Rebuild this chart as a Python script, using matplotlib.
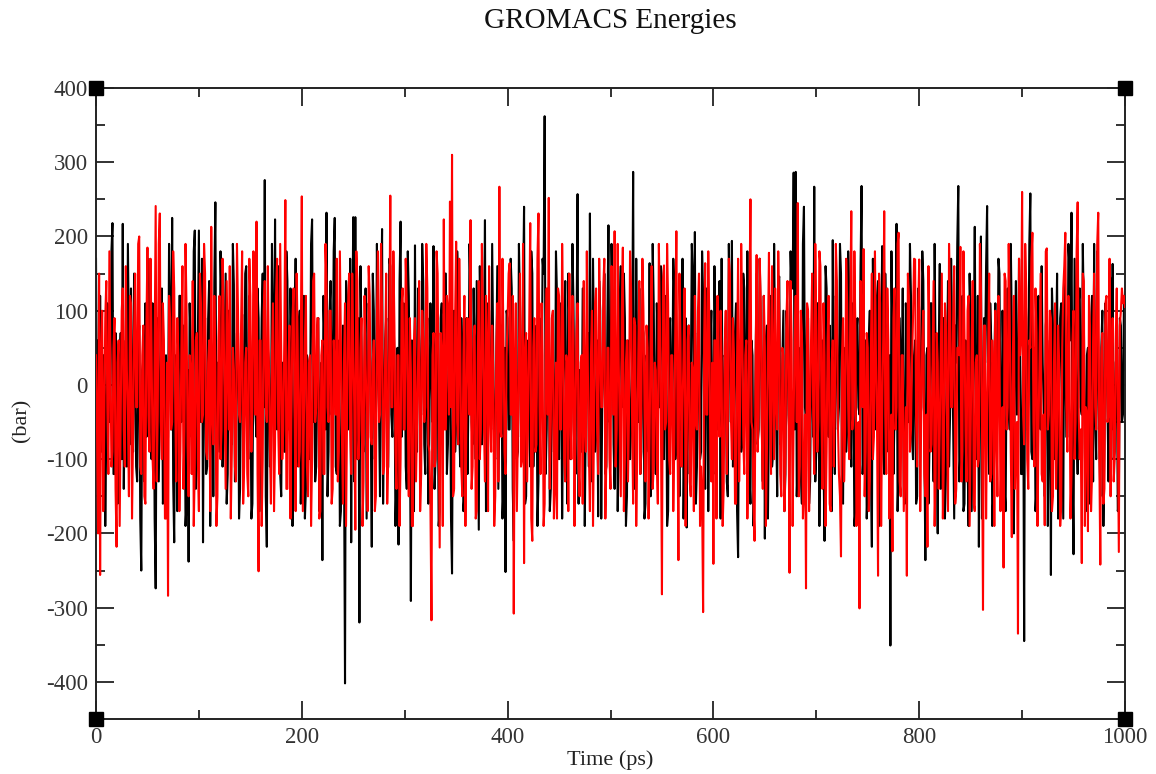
#!/usr/bin/env python3
import matplotlib

matplotlib.use("Agg")
import matplotlib.pyplot as plt
import numpy as np
from matplotlib.ticker import MultipleLocator


OUT = "out.png"
DPI = 100
TIME_STEP_PS = 1.0
TITLE = "GROMACS Energies"
X_LABEL = "Time (ps)"
Y_LABEL = "(bar)"

# pressure components, one value per ps (each row is 50 ps)
pres_black = [
    170, -60, 60, -170, 120, -90, -80, 40, 40, -190, -60, 110, 95, -50, -30, 180, 218, -120, -120, 70, 10, -160, -150, 30, 70, -100, 217, -140, -20, 60, -110, 190, 50, -80, 130, -30, -90, 150, 25, -110, -130, 50, 80, -180, -250, 20, 35, -130, 110, -70,
    -60, 170, 140, -40, -100, 110, 60, -180, -274, 50, 90, -130, -20, 90, 130, -160, -140, 30, 40, -100, -70, 190, 100, -60, 225, -130, -212, 40, 15, -170, -90, 120, 120, -50, -40, 80, 75, -190, -160, 20, -238, 110, 60, -70, -30, 180, 208, -140, -80, 60,
    208, -40, -50, 170, -212, 60, 90, -120, -110, 90, 140, -190, -10, 50, -150, 140, 246, -80, 30, -30, -90, 180, 110, -110, -60, 40, 150, -160, -120, 100, 20, -60, -80, 190, 135, -130, -30, 70, 70, -180, -140, 30, 95, -90, -20, 150, 160, -50, -100, 120,
    40, -180, -160, 60, 120, -40, -70, 130, 90, -170, -40, 90, 150, -30, 276, -150, -218, 50, 30, -110, -100, 190, 80, -70, 223, -40, -60, 160, 110, -120, -150, 30, 20, -90, -90, 180, 140, -60, -30, 130, 60, -190, -120, 40, 170, -110, -50, 80, 100, -160,
    -80, 70, 120, -180, -140, 40, 30, -100, -60, 190, 223, -50, 10, -130, -110, 80, 90, -170, -30, 30, -236, 120, 60, -60, 232, -150, -90, 100, 140, -40, -20, 180, 225, -110, -120, 60, 50, -190, -170, 20, 80, -90, -402, 140, 110, -60, -40, 170, -212, 50,
    226, -130, 226, -40, -100, 90, -320, 160, 60, -70, -90, 30, 130, -180, -40, 110, 70, -50, -218, 150, 100, -100, -60, 190, 20, -30, -150, 80, 210, -160, -30, 60, 90, -120, -110, 170, 160, -40, -70, 100, 40, -190, -130, 50, -215, 140, 220, -70, -20, 110,
    80, -110, -140, 180, 120, -40, -291, 60, 30, -170, 188, -90, -90, 130, 60, -30, -40, 190, 140, -80, -120, 40, 90, -160, -60, 110, 20, -50, 187, -140, -100, 70, 50, -190, -170, 90, 110, -40, -30, 150, 150, -120, -80, 30, 60, -180, -254, 60, 100, -90,
    -50, 180, 130, -60, -110, 90, 40, -170, -150, 40, 90, -120, -20, 190, 120, -50, -80, 130, 30, -100, 140, -30, -195, 160, 70, -80, -40, 60, 222, -170, -130, 110, 100, -40, -60, 190, 50, -90, -100, 30, 160, -140, -30, 70, 80, -180, -140, 50, -252, 100,
    90, -60, -60, 170, 130, -140, -210, 40, 40, -100, -90, 190, 110, -70, -20, 120, 240, -160, -150, 30, 60, -50, -110, 180, 150, -110, -40, 60, 80, -190, -130, 90, 30, -40, 170, 150, 362, -120, -60, 70, 100, -170, -140, 30, 40, -90, -80, 180, 120, -50,
    -100, 110, 60, -180, -30, 60, 140, -40, -160, 150, 80, -100, -50, 190, 110, -30, -120, 80, 257, -160, 20, -60, -90, 130, 130, -190, -40, 50, 70, -110, 231, -40, -130, 170, 40, -90, -60, 60, -177, 140, 100, -180, -20, 30, 150, -120, -110, 90, 215, -50,
    -40, 190, 120, -80, -140, 40, 60, -170, -80, 110, 160, -30, -20, 150, 90, -190, -150, 60, 40, -100, -60, 30, 287, -140, -100, 170, 30, -50, 130, -120, -90, 80, 70, -180, -160, 40, 20, -90, 164, -150, -50, 190, 110, -60, -120, 110, 50, -30, -30, 160,
    140, -50, -100, 120, 60, -190, -170, 60, 90, -30, -40, 170, 130, -100, -80, 40, 20, -150, 110, -60, 170, -180, -60, 90, -192, 30, 80, -120, -20, 190, 150, -40, 206, -160, -110, 70, 40, -100, -90, 180, 120, -30, -140, 130, 60, -170, -30, 50, 100, -110,
    -120, 160, 50, -30, -60, 100, 140, -180, 170, -60, -90, 40, 30, -130, -150, 190, 90, -50, 194, -110, -40, 70, 110, -170, -232, 30, 60, -90, -80, 150, 130, -40, -20, 180, 70, -120, -160, 60, 40, -190, -100, 30, 150, -80, -60, 170, 90, -50, -130, 120,
    -207, 60, 80, -180, -30, 30, 120, -110, -90, 190, 40, -50, -150, 140, 146, -80, -40, 30, 100, -170, -120, 100, 60, -40, -70, 180, 130, 130, 286, -60, 287, -150, -100, 50, 20, -120, -160, 190, 240, -30, -50, 90, 90, -160, -130, 40, 40, -70, 267, -130,
    -90, 110, 110, -190, -40, 40, 60, -100, -210, 160, 130, -50, -70, 80, 30, -170, 195, -30, -120, 120, 80, -60, -30, 190, 150, -140, -160, 40, 50, -90, -60, 180, 120, -50, -110, 110, 20, -190, -170, 70, 90, -30, -40, 160, 268, -120, -90, 50, 60, -180,
    -130, 60, 100, -110, -218, 170, 40, -40, -60, 120, 140, -190, -30, 30, 187, -90, -120, 150, 70, -60, -90, 40, -351, 180, 60, -120, -40, 50, 217, -170, -110, 90, 30, -30, 130, -150, -160, 110, 80, -50, -50, 190, 120, -70, -100, 40, 60, -160, -150, 130,
    100, -50, -30, 180, 140, -90, -236, 40, 50, -160, -80, 110, 110, -30, -130, 190, 20, -70, -200, 50, 163, -140, -60, 90, 90, -180, -120, 30, 140, -110, -40, 170, 70, -50, -180, 80, 30, 190, 268, -130, -90, 40, 120, -170, -160, 60, 40, -100, -190, 150,
    90, -170, -50, 60, 213, -30, -100, 120, -218, 40, 200, -180, -80, 90, 30, 160, 241, -50, -120, 110, 60, -190, -150, 30, 110, -80, -40, 170, 150, -60, -110, 100, 20, -140, -170, 50, 130, -30, -60, 190, 80, -110, -200, 60, 140, -40, -30, 170, 60, -120,
    -120, 40, -345, 150, 90, -60, -20, 190, 258, -90, -100, 30, 50, -170, -140, 110, 120, -50, -60, 160, 30, -30, -150, 80, 100, -190, -40, 60, -256, 130, 80, -100, -90, 40, 150, -180, -30, 90, 110, -30, -180, 150, 40, -70, -70, 190, 160, 60, 232, -110,
    -228, 170, 60, -50, -120, 110, 130, -30, -40, 190, 90, -90, -170, 40, 50, -160, -60, 80, 120, -130, 190, -40, -100, 180, 30, -70, -150, 50, 100, -190, -80, 110, 60, -30, -130, 150, 140, -60, 163, -100, -90, 30, 40, -170, -160, 90, 80, -50, -40, 120,
    20,
]

pres_red = [
    40, -60, -200, 150, -256, 40, 100, -170, -60, 90, 140, -30, -120, 180, 30, -110, -90, 50, 90, -140, -218, 30, 60, -190, -40, 100, 130, -60, -110, 160, 20, -40, -150, 120, 110, -180, -70, 70, 150, -30, -30, 190, 200, -110, -120, 40, 80, -150, -160, 80,
    185, -40, -90, 170, 50, -100, -140, 60, 241, -130, -40, 190, 231, -50, -100, 110, 60, -180, -180, 30, -284, 120, 90, -60, -50, 180, 130, -30, -130, 90, 40, -170, -90, 50, 160, -140, -60, 190, 100, -80, -150, 40, 20, -120, 140, -190, -110, 60, 70, -100,
    -170, 150, 110, -50, -40, 190, 150, -90, -100, 30, 60, -170, 213, -40, -80, 120, 30, -190, -150, 60, 120, -100, -60, 170, 90, -30, -140, 140, 40, -60, 160, -180, -90, 50, 20, -110, -130, 190, 100, -40, -50, 80, 180, -160, -110, 30, 50, -120, -150, 170,
    120, -90, -30, 180, 90, -40, 220, -120, -251, 60, 60, -190, -100, 100, 140, -30, -50, 160, 30, -80, -160, 40, 110, -170, -80, 120, 170, -50, -120, 190, 40, -100, -60, 60, 249, -140, -140, 30, 80, -180, -20, 90, 130, -40, -170, 150, 60, -110, -90, 50,
    254, -170, -60, 60, 120, -110, -150, 30, 40, -190, -100, 140, 150, -50, -30, 90, 90, -180, -170, 40, 60, -120, -120, 190, 140, -30, -50, 100, 100, -160, -140, 60, 20, -40, 170, -130, -90, 180, 60, -70, -160, 30, 110, -190, -40, 110, 150, -60, -120, 150,
    50, -30, -195, 180, 140, -100, -60, 50, 90, -190, -130, 120, 30, -40, -170, 160, 120, -70, -80, 30, 60, -170, -150, 90, 180, -50, -40, 190, 100, -120, -110, 40, 150, -160, -90, 60, 255, -30, -30, 180, 80, -90, -140, 40, 40, -190, -100, 110, 130, -60,
    -60, 170, 110, -40, -150, 90, 20, -190, -190, 60, 90, -130, -50, 30, 140, -170, -120, 100, 60, -50, -30, 190, 130, -80, -90, -160, -317, 40, 70, -110, -100, 180, 150, -30, -219, 70, 40, -190, 223, -60, -60, 120, 100, -40, 247, -30, 310, -150, -140, 90,
    193, -50, -80, 170, 60, -110, -150, 30, 120, -190, -40, 90, 30, -40, 222, -140, -110, 60, 80, -180, -170, 30, 140, -100, -60, 190, 100, -50, -130, 120, 50, -170, 160, -30, -90, 80, 20, -190, -150, 50, 110, -130, 267, -60, -70, 170, 60, -90, -120, 40,
    90, 150, 164, -40, -40, 120, -308, 30, 110, -170, -60, 60, 150, -110, -100, 190, -240, 40, 70, -130, -30, 80, 218, -180, -210, 50, 90, -90, -80, 170, 231, -30, -120, 110, 40, -190, -160, 60, 130, -40, 252, -140, -50, 90, 100, -180, -140, 30, -180, 130,
    120, -60, -60, 190, 80, -100, -130, 40, 30, -170, 150, -30, -100, 120, 60, -190, -40, 70, 110, -110, -150, 30, 40, -160, 140, -50, -90, 180, 20, -90, -170, 40, 100, -190, -50, 110, 130, -60, -120, 170, 60, -30, -30, 130, 170, -180, -100, 50, 50, -100,
    -140, 160, 90, -40, 207, -110, -60, 190, 30, -60, -150, 100, 185, -170, -100, 30, 60, -130, -40, 180, 130, -50, -160, 90, 80, -190, -90, 40, 140, -120, -30, 170, 100, -30, -130, 80, 50, -180, -70, 60, 160, -140, -110, 30, 20, -100, -160, 190, 90, -50,
    -282, 140, 161, -60, -50, 190, 110, -100, -120, 40, 40, -170, -80, 80, 207, -30, -236, 150, 60, -110, -30, 40, 130, -190, -90, 60, 80, -130, -150, 30, 20, -170, 120, -50, -60, 100, 150, -190, -110, -150, -306, 60, 164, -40, -40, 180, 90, -90, -130, 30,
    -241, 60, 60, -180, 120, -30, -70, 100, 30, -190, -140, 50, 100, -120, -50, 170, 150, -40, -100, 90, 40, -160, -160, 30, 170, -130, -30, 190, 90, -70, -120, 40, 60, -180, -80, 110, 250, -50, -60, -160, -210, 30, 175, -90, -40, 170, 110, -60, -140, 120,
    50, -190, -90, 60, 178, -40, -120, 160, 30, -100, 130, -30, -60, 180, 90, -120, -150, 50, 40, -170, -100, 90, 140, -30, -253, 140, 60, -190, -40, 60, 120, -50, 245, -150, -110, 100, 70, -180, -140, -40, -274, 110, 100, -170, -30, 70, 150, -40, -120, 190,
    80, -90, -50, 180, 160, -40, -140, 110, 40, -190, -90, 60, 120, -160, -170, 30, 60, -110, -30, 190, 140, -50, -120, -150, -231, 40, 90, -130, -60, 170, 110, -30, -100, 100, 234, -60, -40, 180, 70, -190, -160, -50, -301, 140, 100, -30, 183, -150, -90, 70,
    50, -170, -130, 40, 150, -100, -70, 180, 30, -50, -257, 150, 110, -190, -40, 60, 234, -40, -120, 130, 60, -180, -90, -40, -224, 90, 130, -60, -30, 190, 205, -130, -150, 40, 40, -170, -100, -30, -257, 150, 120, -90, -60, 30, 90, 170, 169, -50, -110, 100,
    169, -170, -40, 60, 100, -120, -150, -40, -218, 160, 60, -90, -80, 30, 140, -190, -120, 70, 30, -140, -60, 40, 150, -180, -100, 110, 80, -50, -170, 190, 110, -30, -30, 90, 160, -160, -140, 50, 50, 40, 186, -130, -90, 180, 70, -60, -130, 100, 120, -190,
    -60, 60, 140, -160, -170, 30, 40, -110, -100, 190, 130, -50, -303, 80, 80, -180, -40, 40, 150, -130, -120, 60, 20, -190, 100, -50, -150, 120, 60, -170, -90, -30, -246, 150, 140, -60, -30, 190, 90, -90, -205, 40, 120, -140, -60, -50, -335, 170, 40, 60,
    260, -40, -80, 190, 130, -100, -140, 60, 50, 170, 205, -50, -110, 130, 70, -190, -60, 40, 150, -120, -130, -40, -189, 180, 184, -60, -40, 100, 90, -170, -150, 30, 110, -140, -70, 80, 30, -190, -160, 50, 130, 160, 205, -30, -90, 120, 60, -180, -120, 60,
    100, -100, -50, 180, 246, -40, -100, -60, -240, 150, 140, -190, -30, -40, -197, 120, 80, -170, -120, 60, 150, -30, -60, 190, 232, -90, -242, 40, 70, -160, -140, 110, 120, -50, -40, 170, -150, 30, 90, -130, -100, 60, 130, -40, -225, 80, 100, 130, 110, 120,
    105,
]

X_MAJOR = 200
X_MINOR = 100
Y_MAJOR = 100
Y_MINOR = 50
X_LIMITS = (0, 1000)
Y_LIMITS = (-450, 400)


def style_axes(ax) -> None:
    ax.set_xlim(*X_LIMITS)
    ax.set_ylim(*Y_LIMITS)
    ax.xaxis.set_major_locator(MultipleLocator(X_MAJOR))
    ax.xaxis.set_minor_locator(MultipleLocator(X_MINOR))
    ax.yaxis.set_major_locator(MultipleLocator(Y_MAJOR))
    ax.yaxis.set_minor_locator(MultipleLocator(Y_MINOR))
    ax.tick_params(which="both", direction="in", top=True, right=True, width=1.3, colors="#222222")
    ax.tick_params(which="major", length=13, pad=6, labelsize=16.5, labelcolor="#333333")
    ax.tick_params(which="minor", length=6.5)
    for spine in ax.spines.values():
        spine.set_linewidth(1.4)
        spine.set_color("#222222")

    # Grace-style corner handles
    corners_x = [X_LIMITS[0], X_LIMITS[1], X_LIMITS[0], X_LIMITS[1]]
    corners_y = [Y_LIMITS[1], Y_LIMITS[1], Y_LIMITS[0], Y_LIMITS[0]]
    ax.plot(corners_x, corners_y, ls="none", marker="s", ms=10.5, color="black", clip_on=False, zorder=10)


def main() -> None:
    plt.rcParams["font.family"] = ["Liberation Serif", "DejaVu Serif"]
    plt.rcParams["axes.unicode_minus"] = False
    fig = plt.figure(figsize=(11.56, 7.74), dpi=DPI)
    ax = fig.add_axes([96 / 1156, 1 - 719 / 774, (1125 - 96) / 1156, (719 - 88) / 774])

    time_black = np.arange(len(pres_black)) * TIME_STEP_PS
    time_red = np.arange(len(pres_red)) * TIME_STEP_PS
    ax.plot(time_black, pres_black, color="black", lw=1.5, zorder=2)
    ax.plot(time_red, pres_red, color="#ff0000", lw=1.5, zorder=3)

    style_axes(ax)

    fig.text(610 / 1156, 1 - 21 / 774, TITLE, ha="center", va="center", fontsize=21, color="#111111")
    fig.text(610 / 1156, 1 - 760 / 774, X_LABEL, ha="center", va="center", fontsize=16, color="#222222")
    fig.text(22 / 1156, 1 - 420 / 774, Y_LABEL, ha="center", va="center", rotation=90, fontsize=16, color="#222222")

    fig.savefig(OUT, dpi=DPI)
    plt.close(fig)


if __name__ == "__main__":
    main()
